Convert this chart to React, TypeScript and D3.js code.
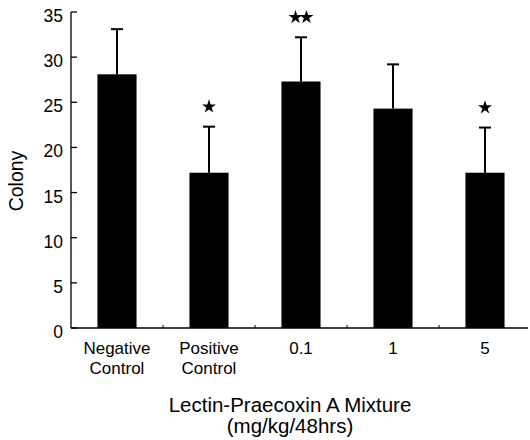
import React from "react";
import * as d3 from "d3";

const categories = ["Negative Control", "Positive Control", "0.1", "1", "5"];
const labelLines = [["Negative", "Control"], ["Positive", "Control"], ["0.1"], ["1"], ["5"]];
const means = [28.1, 17.2, 27.3, 24.3, 17.2];
const errors = [5.0, 5.1, 4.9, 4.9, 5.0];
const stars = [0, 1, 2, 0, 1];
const yTicks = [0, 5, 10, 15, 20, 25, 30, 35];

export default function App() {
  const W = 530, H = 440;
  const left = 71, right = 531, top = 12, bottom = 328;
  const x = d3.scaleBand<string>().domain(categories).range([left, right]).paddingInner(0.575).paddingOuter(0.2875);
  const y = d3.scaleLinear().domain([0, 35]).range([bottom, top]);
  const bw = x.bandwidth();
  const step = x.step();
  const starPath = d3.symbol().type(d3.symbolStar).size(60)() as string;
  const font = "'Liberation Sans', Arial, sans-serif";
  return (
    <svg width={W} height={H} style={{ position: "absolute", left: 0, top: 0, background: "#fff" }} fontFamily={font}>
      {/* axes */}
      <line x1={left} x2={left} y1={top} y2={bottom} stroke="#000" strokeWidth={1.3} />
      <line x1={left} x2={528} y1={bottom} y2={bottom} stroke="#000" strokeWidth={1.3} />
      {yTicks.map((t) => (
        <g key={t}>
          <line x1={left} x2={left + 6} y1={y(t)} y2={y(t)} stroke="#000" strokeWidth={1.3} />
          <text x={63} y={y(t) + 10} textAnchor="end" fontSize={17.5}>{t}</text>
        </g>
      ))}
      {categories.slice(1).map((c, i) => {
        const bx = left + step * (i + 1);
        return <line key={c} x1={bx} x2={bx} y1={bottom} y2={bottom - 3} stroke="#000" strokeWidth={1} />;
      })}
      {/* bars */}
      {categories.map((c, i) => {
        const cx = (x(c) as number) + bw / 2;
        const yTop = y(means[i] + errors[i]);
        return (
          <g key={c}>
            <line x1={cx} x2={cx} y1={y(means[i])} y2={yTop} stroke="#000" strokeWidth={2} />
            <line x1={cx - 6} x2={cx + 6} y1={yTop} y2={yTop} stroke="#000" strokeWidth={2} />
            <rect x={x(c)} y={y(means[i])} width={bw} height={bottom - y(means[i])} fill="#000" />
            {d3.range(stars[i]).map((k) => {
              const off = stars[i] === 1 ? 0 : (k - 0.5) * 11;
              return <path key={k} d={starPath} transform={`translate(${cx + off},${yTop - 20})`} fill="#000" />;
            })}
          </g>
        );
      })}
      {/* category labels */}
      {categories.map((c, i) => {
        const cx = (x(c) as number) + bw / 2;
        return (
          <text key={c} x={cx} textAnchor="middle" fontSize={17}>
            {labelLines[i].map((l, k) => (
              <tspan key={k} x={cx} y={354 + k * 20}>{l}</tspan>
            ))}
          </text>
        );
      })}
      <text x={290} y={412} textAnchor="middle" fontSize={20.5}>Lectin-Praecoxin A Mixture</text>
      <text x={290} y={433} textAnchor="middle" fontSize={20.5}>(mg/kg/48hrs)</text>
      <text transform={`translate(23,181) rotate(-90)`} textAnchor="middle" fontSize={19.5}>Colony</text>
    </svg>
  );
}
